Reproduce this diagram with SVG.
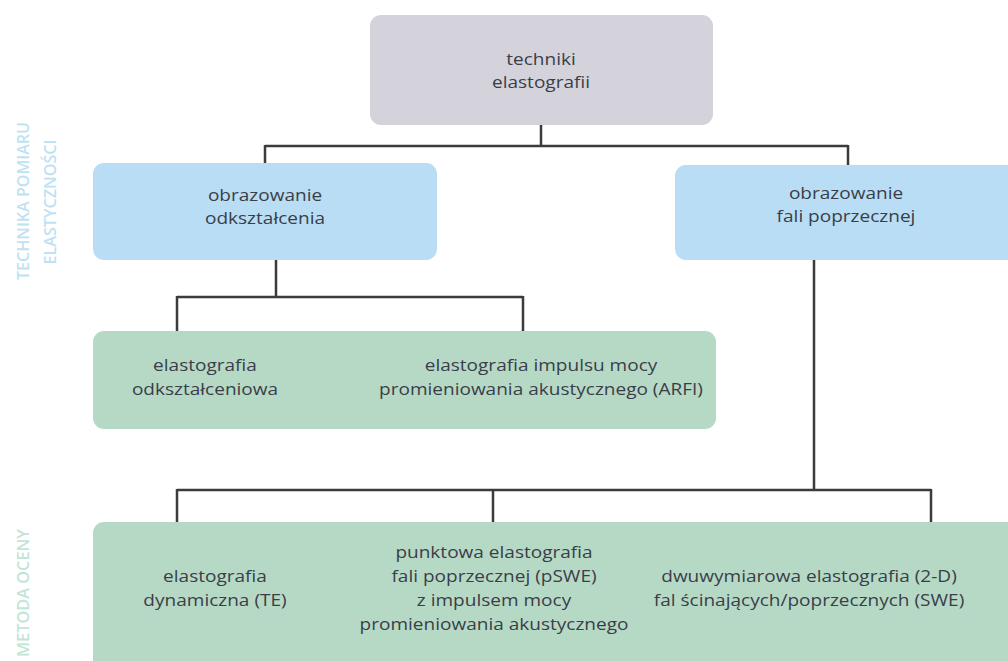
<svg xmlns="http://www.w3.org/2000/svg" width="1008" height="661" viewBox="0 0 1008 661">
<style>
.t{font-family:"Open Sans","Noto Sans","DejaVu Sans",sans-serif;font-size:17px;fill:#3a3e48;text-anchor:middle}
.side{font-family:"Open Sans","Liberation Sans",sans-serif;font-size:17px;font-weight:600;text-anchor:middle}
.c{fill:none;stroke:#3b3b3b;stroke-width:2.5}
.grey{fill:#d4d3dc}
.blue{fill:#b8ddf4}
.green{fill:#b6d9c6}
</style>
<rect width="1008" height="661" fill="#ffffff"/>
<g id="side-labels">
<text class="side" fill="#bfe2f3" transform="translate(29,201) rotate(-90)" textLength="158" lengthAdjust="spacingAndGlyphs">TECHNIKA POMIARU</text>
<text class="side" fill="#bfe2f3" transform="translate(56,202) rotate(-90)" textLength="125" lengthAdjust="spacingAndGlyphs">ELASTYCZNOŚCI</text>
<text class="side" fill="#c3e5d6" transform="translate(29,593) rotate(-90)" textLength="128" lengthAdjust="spacingAndGlyphs">METODA OCENY</text>
</g>
<g id="connectors">
<path class="c" d="M541 125 V146 M265 146 H848 M265 145 V164 M848 145 V166"/>
<path class="c" d="M276 260 V297 M177 297 H523 M177 296 V331 M523 296 V331"/>
<path class="c" d="M814 260 V490 M177 490 H931 M177 489 V522 M493 489 V522 M931 489 V522"/>
</g>
<g id="techniki">
<rect class="grey" x="370" y="15" width="343" height="110" rx="11"/>
<text class="t" transform="translate(541,65) scale(1.12,1)">techniki</text>
<text class="t" transform="translate(541,88) scale(1.12,1)">elastografii</text>
</g>
<g id="obrazowanie-odksztalcenia">
<rect class="blue" x="93" y="163" width="344" height="97" rx="11"/>
<text class="t" transform="translate(265,201) scale(1.12,1)">obrazowanie</text>
<text class="t" transform="translate(265,224) scale(1.12,1)">odkształcenia</text>
</g>
<g id="obrazowanie-fali">
<rect class="blue" x="675" y="165" width="345" height="95" rx="11"/>
<text class="t" transform="translate(846,199) scale(1.12,1)">obrazowanie</text>
<text class="t" transform="translate(846,222) scale(1.12,1)">fali poprzecznej</text>
</g>
<g id="metody-odksztalcenia">
<rect class="green" x="93" y="331" width="623" height="98" rx="11"/>
<text class="t" transform="translate(205,371) scale(1.12,1)">elastografia</text>
<text class="t" transform="translate(205,395) scale(1.12,1)">odkształceniowa</text>
<text class="t" transform="translate(541,371) scale(1.12,1)">elastografia impulsu mocy</text>
<text class="t" transform="translate(541,395) scale(1.12,1)">promieniowania akustycznego (ARFI)</text>
</g>
<g id="metody-fali">
<rect class="green" x="93" y="522" width="930" height="150" rx="11"/>
<text class="t" transform="translate(215,582) scale(1.12,1)">elastografia</text>
<text class="t" transform="translate(215,606) scale(1.12,1)">dynamiczna (TE)</text>
<text class="t" transform="translate(494,558) scale(1.12,1)">punktowa elastografia</text>
<text class="t" transform="translate(494,582) scale(1.12,1)">fali poprzecznej (pSWE)</text>
<text class="t" transform="translate(494,606) scale(1.12,1)">z impulsem mocy</text>
<text class="t" transform="translate(494,630) scale(1.12,1)">promieniowania akustycznego</text>
<text class="t" transform="translate(809,582) scale(1.12,1)">dwuwymiarowa elastografia (2-D)</text>
<text class="t" transform="translate(809,606) scale(1.12,1)">fal ścinających/poprzecznych (SWE)</text>
</g>
</svg>
